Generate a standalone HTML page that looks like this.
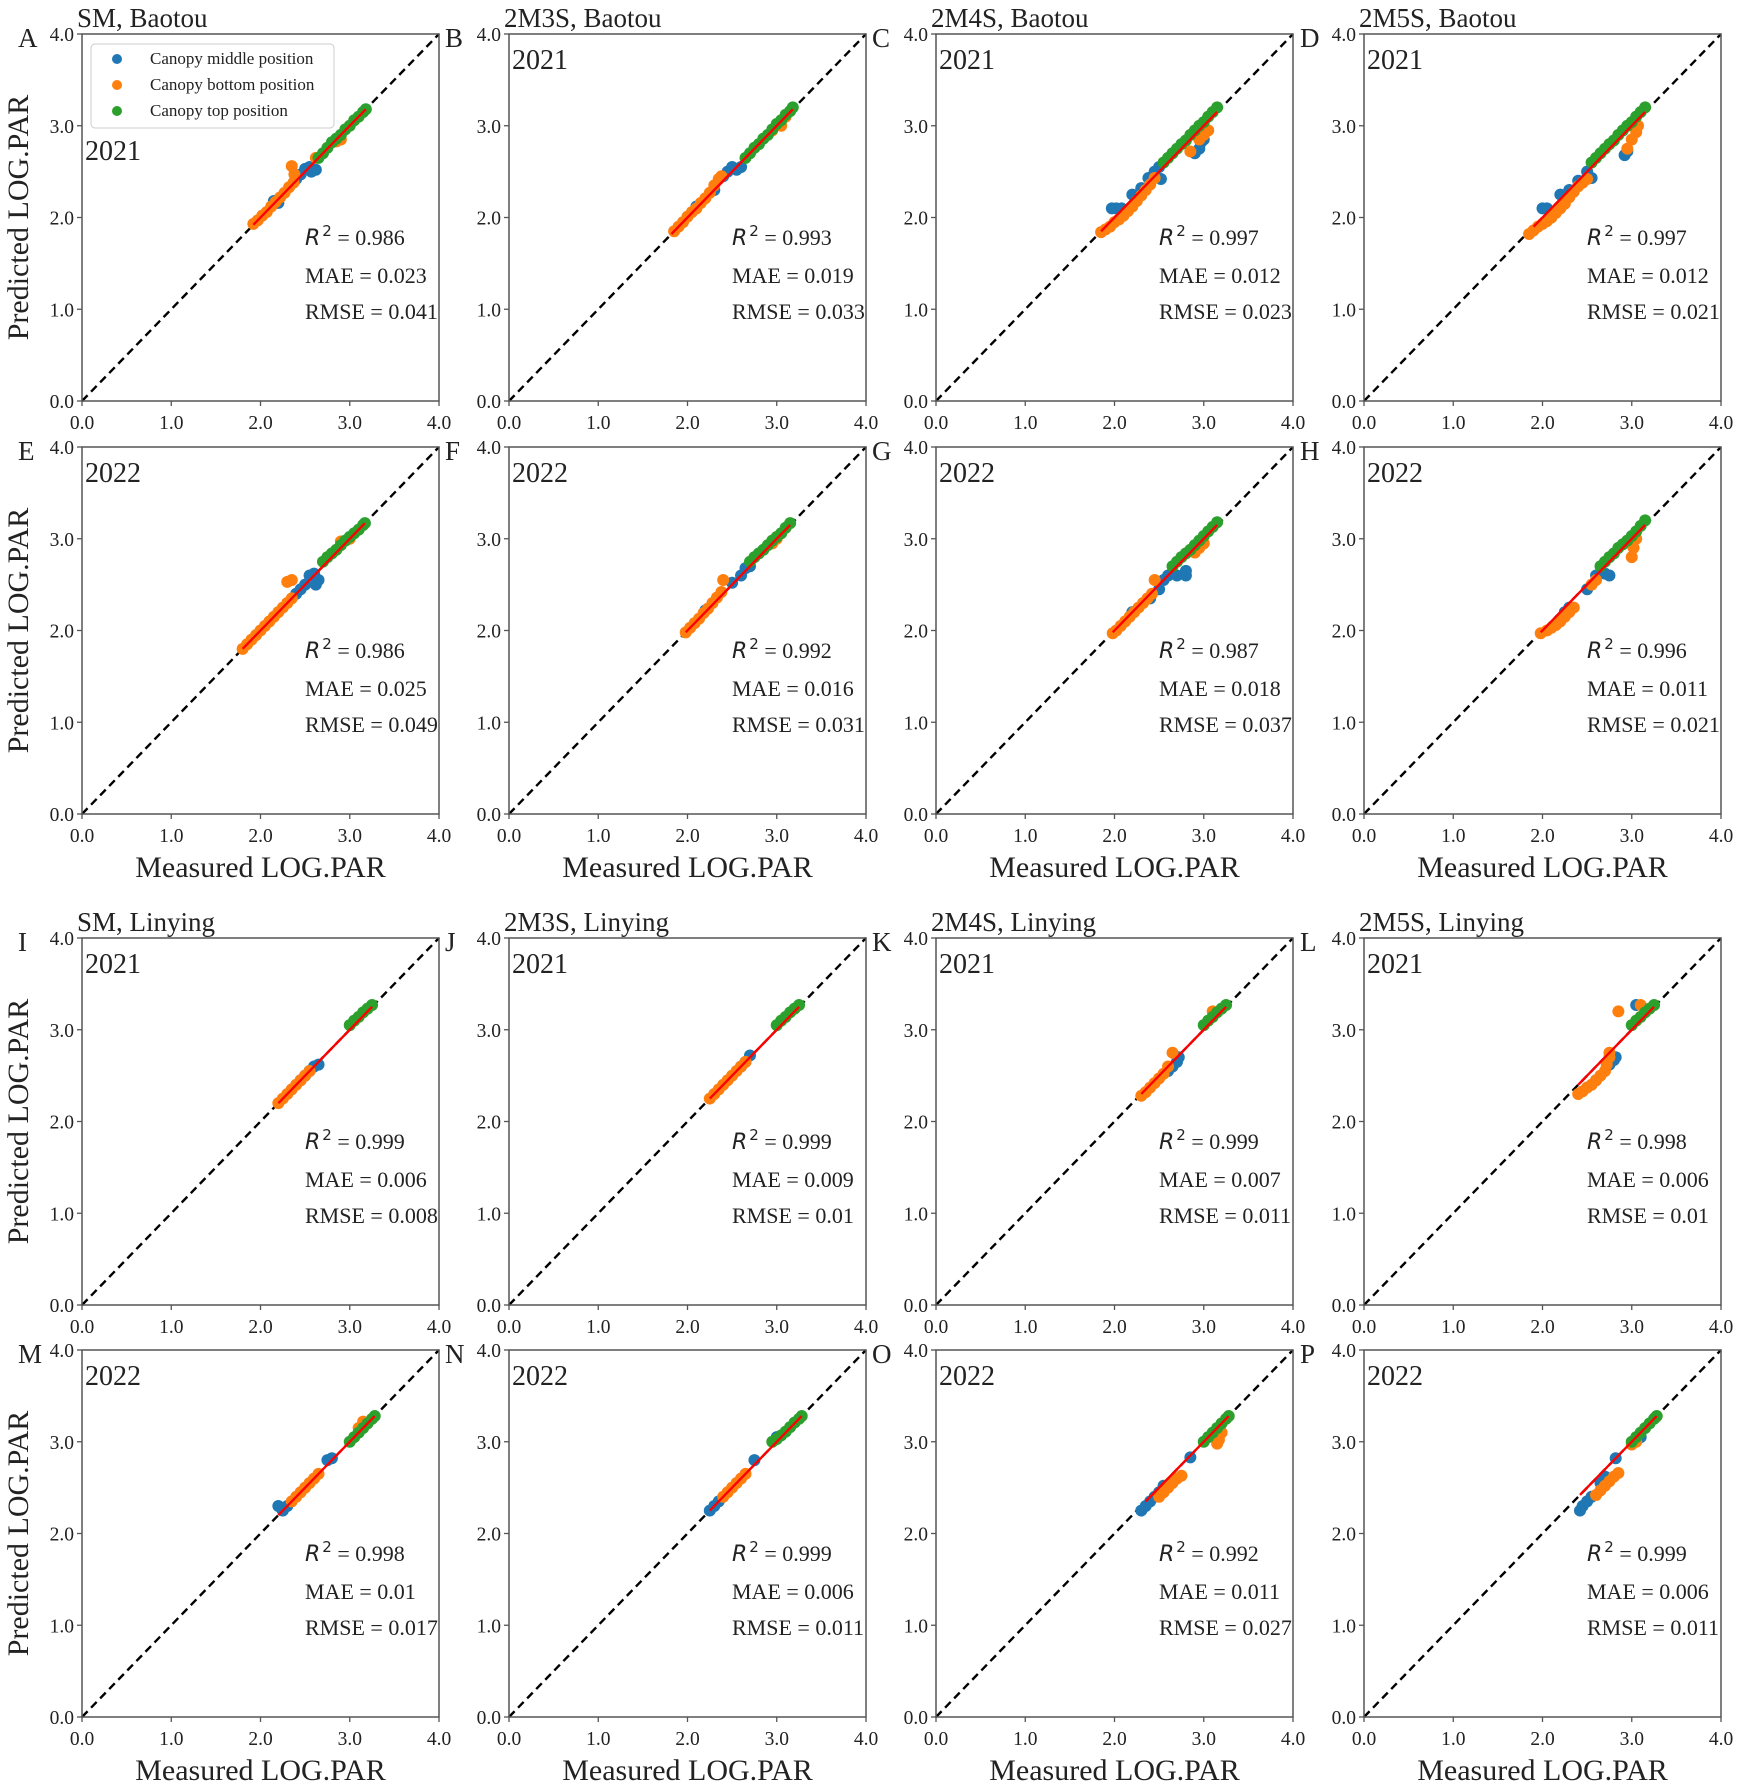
<!DOCTYPE html>
<html><head><meta charset="utf-8"><style>
html,body{margin:0;padding:0;background:#fff;}
svg{display:block;}
text{font-family:"Liberation Serif",serif;fill:#222;}
</style></head><body>
<svg id="fig" xmlns="http://www.w3.org/2000/svg" width="1742" height="1790" viewBox="0 0 1742 1790"></svg>
<script>
// ---- data ----
const panelLetters = ["A","B","C","D","E","F","G","H","I","J","K","L","M","N","O","P"];
const panelTitles = ["SM, Baotou","2M3S, Baotou","2M4S, Baotou","2M5S, Baotou","","","","","SM, Linying","2M3S, Linying","2M4S, Linying","2M5S, Linying","","","",""];
const panelYears = ["2021","2021","2021","2021","2022","2022","2022","2022","2021","2021","2021","2021","2022","2022","2022","2022"];
const r2Values = ["0.986","0.993","0.997","0.997","0.986","0.992","0.987","0.996","0.999","0.999","0.999","0.998","0.998","0.999","0.992","0.999"];
const maeValues = ["0.023","0.019","0.012","0.012","0.025","0.016","0.018","0.011","0.006","0.009","0.007","0.006","0.01","0.006","0.011","0.006"];
const rmseValues = ["0.041","0.033","0.023","0.021","0.049","0.031","0.037","0.021","0.008","0.01","0.011","0.01","0.017","0.011","0.027","0.011"];
const tickValues = [0,1,2,3,4];
const tickLabels = ["0.0","1.0","2.0","3.0","4.0"];
const fitRanges = [[1.92,3.18],[1.82,3.18],[1.85,3.15],[1.9,3.15],[1.8,3.17],[1.98,3.15],[1.98,3.15],[1.98,3.15],[2.2,3.25],[2.25,3.25],[2.3,3.25],[2.4,3.25],[2.2,3.28],[2.25,3.28],[2.35,3.28],[2.42,3.28]];
const middleSeries = [
 [[2.15,2.18],[2.2,2.16],[2.4,2.42],[2.45,2.47],[2.5,2.53],[2.55,2.55],[2.62,2.52],[2.57,2.5]],
 [[2.1,2.12],[2.3,2.3],[2.4,2.45],[2.45,2.5],[2.5,2.55],[2.55,2.52],[2.6,2.55]],
 [[1.97,2.1],[2.02,2.1],[2.08,2.1],[2.2,2.25],[2.3,2.32],[2.38,2.43],[2.45,2.5],[2.5,2.55],[2.52,2.42],[2.9,2.7],[2.95,2.75],[2.97,2.82],[3.0,2.85]],
 [[2.0,2.1],[2.05,2.1],[2.2,2.25],[2.3,2.3],[2.4,2.4],[2.5,2.5],[2.55,2.43],[2.92,2.68],[2.95,2.72]],
 [[2.4,2.4],[2.45,2.45],[2.5,2.5],[2.55,2.6],[2.6,2.62],[2.65,2.55],[2.62,2.5]],
 [[2.2,2.22],[2.5,2.52],[2.6,2.6],[2.65,2.68],[2.7,2.7]],
 [[2.2,2.2],[2.4,2.35],[2.5,2.45],[2.55,2.55],[2.6,2.6],[2.7,2.6],[2.8,2.6],[2.8,2.65]],
 [[2.25,2.2],[2.3,2.25],[2.5,2.45],[2.6,2.6],[2.7,2.62],[2.75,2.6]],
 [[2.45,2.45],[2.5,2.5],[2.55,2.55],[2.6,2.6],[2.65,2.62]],
 [[2.6,2.6],[2.65,2.65],[2.7,2.72]],
 [[2.6,2.55],[2.65,2.6],[2.7,2.65],[2.72,2.7]],
 [[2.6,2.45],[2.75,2.62],[2.8,2.67],[2.82,2.7],[3.05,3.27]],
 [[2.2,2.3],[2.25,2.25],[2.3,2.3],[2.75,2.8],[2.8,2.82]],
 [[2.25,2.25],[2.3,2.3],[2.35,2.35],[2.75,2.8],[3.0,3.05]],
 [[2.3,2.25],[2.35,2.3],[2.4,2.35],[2.45,2.4],[2.5,2.45],[2.55,2.52],[2.85,2.83]],
 [[2.42,2.25],[2.45,2.3],[2.5,2.35],[2.55,2.4],[2.65,2.55],[2.7,2.62],[2.82,2.82],[3.1,3.05]]
];
const bottomSeries = [
 [[1.92,1.93],[1.97,1.97],[2.02,2.02],[2.07,2.06],[2.12,2.12],[2.17,2.17],[2.22,2.22],[2.27,2.27],[2.32,2.33],[2.37,2.38],[2.35,2.56],[2.38,2.47],[2.62,2.65],[2.85,2.83],[2.9,2.85]],
 [[1.85,1.85],[1.9,1.9],[1.95,1.95],[2.0,2.01],[2.05,2.06],[2.1,2.1],[2.15,2.16],[2.2,2.21],[2.25,2.27],[2.3,2.35],[2.35,2.42],[2.38,2.45],[2.95,2.95],[3.05,3.0],[3.1,3.1]],
 [[1.85,1.84],[1.9,1.87],[1.95,1.9],[2.0,1.95],[2.05,1.98],[2.1,2.02],[2.15,2.07],[2.2,2.12],[2.25,2.18],[2.3,2.24],[2.35,2.3],[2.4,2.36],[2.45,2.43],[2.85,2.72],[2.95,2.85],[3.0,2.9],[3.05,2.95]],
 [[1.85,1.82],[1.9,1.86],[1.95,1.9],[2.0,1.93],[2.05,1.96],[2.1,2.0],[2.15,2.05],[2.2,2.1],[2.25,2.15],[2.3,2.22],[2.35,2.28],[2.4,2.34],[2.45,2.38],[2.5,2.42],[2.95,2.75],[3.0,2.85],[3.05,2.93],[3.07,3.0]],
 [[1.8,1.8],[1.85,1.85],[1.9,1.9],[1.95,1.95],[2.0,2.0],[2.05,2.05],[2.1,2.1],[2.15,2.15],[2.2,2.2],[2.25,2.25],[2.3,2.3],[2.35,2.35],[2.3,2.53],[2.35,2.55],[2.9,2.97],[3.0,3.0]],
 [[1.98,1.98],[2.03,2.03],[2.08,2.08],[2.13,2.13],[2.18,2.19],[2.23,2.24],[2.28,2.3],[2.33,2.36],[2.38,2.42],[2.4,2.55],[2.95,2.95],[3.0,3.0]],
 [[1.98,1.97],[2.02,2.0],[2.07,2.05],[2.12,2.1],[2.17,2.15],[2.22,2.2],[2.27,2.25],[2.32,2.3],[2.37,2.35],[2.42,2.4],[2.45,2.55],[2.9,2.85],[2.95,2.9],[3.0,2.95]],
 [[1.98,1.97],[2.05,2.0],[2.1,2.03],[2.15,2.06],[2.2,2.1],[2.25,2.15],[2.3,2.2],[2.35,2.25],[2.55,2.5],[2.6,2.55],[3.0,2.8],[3.02,2.9],[3.05,3.0]],
 [[2.2,2.2],[2.25,2.25],[2.3,2.3],[2.35,2.35],[2.4,2.4],[2.45,2.45],[2.5,2.5],[2.55,2.55]],
 [[2.25,2.25],[2.3,2.3],[2.35,2.35],[2.4,2.4],[2.45,2.45],[2.5,2.5],[2.55,2.55],[2.6,2.6],[2.65,2.65]],
 [[2.3,2.28],[2.35,2.32],[2.4,2.37],[2.45,2.42],[2.5,2.47],[2.55,2.52],[2.6,2.6],[2.65,2.75],[3.1,3.2]],
 [[2.4,2.3],[2.45,2.33],[2.5,2.37],[2.55,2.4],[2.6,2.45],[2.65,2.5],[2.7,2.55],[2.72,2.62],[2.75,2.7],[2.75,2.75],[2.85,3.2],[3.1,3.27]],
 [[2.35,2.35],[2.4,2.4],[2.45,2.45],[2.5,2.5],[2.55,2.55],[2.6,2.6],[2.65,2.65],[3.1,3.15],[3.15,3.22]],
 [[2.4,2.4],[2.45,2.45],[2.5,2.5],[2.55,2.55],[2.6,2.6],[2.65,2.65]],
 [[2.5,2.4],[2.55,2.45],[2.6,2.5],[2.65,2.55],[2.7,2.6],[2.75,2.63],[3.15,2.98],[3.17,3.02],[3.2,3.1]],
 [[2.6,2.42],[2.65,2.47],[2.7,2.52],[2.75,2.57],[2.8,2.62],[2.85,2.66],[3.0,2.97],[3.05,3.0],[3.27,3.27]]
];
const topSeries = [
 [[2.65,2.65],[2.7,2.7],[2.75,2.76],[2.8,2.82],[2.85,2.86],[2.9,2.9],[2.95,2.96],[3.0,3.0],[3.05,3.06],[3.1,3.1],[3.15,3.15],[3.18,3.18]],
 [[2.65,2.65],[2.7,2.7],[2.75,2.76],[2.8,2.8],[2.85,2.86],[2.9,2.9],[2.95,2.96],[3.0,3.02],[3.05,3.06],[3.1,3.12],[3.15,3.16],[3.18,3.2]],
 [[2.55,2.6],[2.6,2.65],[2.65,2.7],[2.7,2.75],[2.75,2.8],[2.8,2.84],[2.85,2.9],[2.9,2.95],[2.95,3.0],[3.0,3.04],[3.05,3.1],[3.1,3.15],[3.15,3.2]],
 [[2.55,2.6],[2.6,2.65],[2.65,2.7],[2.7,2.75],[2.75,2.8],[2.8,2.84],[2.85,2.9],[2.9,2.95],[2.95,3.0],[3.0,3.04],[3.05,3.1],[3.1,3.15],[3.15,3.2]],
 [[2.7,2.75],[2.75,2.8],[2.8,2.84],[2.85,2.88],[2.9,2.93],[2.95,2.98],[3.0,3.02],[3.05,3.06],[3.1,3.1],[3.15,3.15],[3.17,3.17]],
 [[2.7,2.75],[2.75,2.8],[2.8,2.84],[2.85,2.88],[2.9,2.93],[2.95,2.98],[3.0,3.02],[3.05,3.06],[3.1,3.12],[3.15,3.17]],
 [[2.65,2.7],[2.7,2.75],[2.75,2.8],[2.8,2.84],[2.85,2.88],[2.9,2.93],[2.95,2.98],[3.0,3.03],[3.05,3.08],[3.1,3.13],[3.15,3.18]],
 [[2.65,2.7],[2.7,2.75],[2.75,2.8],[2.8,2.84],[2.85,2.9],[2.9,2.94],[2.95,2.98],[3.0,3.03],[3.05,3.08],[3.1,3.14],[3.15,3.2]],
 [[3.0,3.05],[3.05,3.1],[3.1,3.14],[3.15,3.19],[3.2,3.23],[3.25,3.27]],
 [[3.0,3.05],[3.05,3.1],[3.1,3.14],[3.15,3.19],[3.2,3.23],[3.25,3.27]],
 [[3.0,3.05],[3.05,3.1],[3.1,3.14],[3.15,3.19],[3.2,3.23],[3.25,3.27]],
 [[3.0,3.05],[3.05,3.1],[3.1,3.14],[3.15,3.19],[3.2,3.23],[3.25,3.27]],
 [[3.0,3.0],[3.05,3.05],[3.1,3.1],[3.15,3.15],[3.2,3.2],[3.25,3.25],[3.28,3.28]],
 [[2.95,3.0],[3.0,3.03],[3.05,3.07],[3.1,3.11],[3.15,3.16],[3.2,3.21],[3.25,3.25],[3.28,3.28]],
 [[3.0,3.0],[3.05,3.05],[3.1,3.1],[3.15,3.15],[3.2,3.2],[3.25,3.25],[3.28,3.28]],
 [[3.0,3.0],[3.05,3.05],[3.1,3.1],[3.15,3.15],[3.2,3.2],[3.25,3.25],[3.28,3.28]]
];

// ---- layout ----
const NS = "http://www.w3.org/2000/svg";
const svg = document.getElementById("fig");
const colLeft = [82, 509, 936, 1364];
const rowTop = [34, 447, 938, 1350];
const W = 357, H = 367;
const COLORS = {mid:"#1f77b4", bot:"#ff7f0e", top:"#2ca02c"};

function mk(tag, attrs, parent) {
  const e = document.createElementNS(NS, tag);
  for (const k in attrs) e.setAttribute(k, attrs[k]);
  (parent || svg).appendChild(e);
  return e;
}

for (let p = 0; p < 16; p++) {
  const r = Math.floor(p / 4), c = p % 4;
  const L = colLeft[c], T = rowTop[r];
  const sx = v => L + v / 4 * W;
  const sy = v => T + H - v / 4 * H;
  const g = mk("g", {});
  
  

  const diag = mk("line", {x1:sx(0), y1:sy(0), x2:sx(4), y2:sy(4), stroke:"#000", "stroke-width":2.4, "stroke-dasharray":"8,5"}, g);
  
  

  const sets = [["mid", middleSeries[p]], ["bot", bottomSeries[p]], ["top", topSeries[p]]];
  for (const [key, pts] of sets) {
    const sg = mk("g", {fill: COLORS[key]}, g);
    
    
    for (const pt of pts) {
      const d = mk("circle", {cx: sx(pt[0]), cy: sy(pt[1]), r: 6}, sg);
      
      
    }
  }
  const f = fitRanges[p];
  const fit = mk("line", {x1:sx(f[0]), y1:sy(f[0]), x2:sx(f[1]), y2:sy(f[1]), stroke:"#ff0000", "stroke-width":2.4}, g);
  
  

  const fr = mk("rect", {x:L, y:T, width:W, height:H, fill:"none", stroke:"#555", "stroke-width":1.5}, g);
  
  

  for (let i = 0; i < tickValues.length; i++) {
    const v = tickValues[i];
    mk("line", {x1:sx(v), y1:T+H, x2:sx(v), y2:T+H+5, stroke:"#555", "stroke-width":1.3}, g);
    mk("line", {x1:L-5, y1:sy(v), x2:L, y2:sy(v), stroke:"#555", "stroke-width":1.3}, g);
    const xt = mk("text", {x:sx(v), y:T+H+28, "text-anchor":"middle", "font-size":19.5, fill:"#333"}, g);
    xt.textContent = tickLabels[i];
    
    
    const yt = mk("text", {x:L-8, y:sy(v)+7, "text-anchor":"end", "font-size":19.5, fill:"#333"}, g);
    yt.textContent = tickLabels[i];
    
    
  }

  const lt = mk("text", {x:L-64, y:T+13, "font-size":27}, g);
  lt.textContent = panelLetters[p];
  
  

  if (panelTitles[p]) {
    const tt = mk("text", {x:L-5, y:T-7, "font-size":27}, g);
    tt.textContent = panelTitles[p];
    
    
  }

  const yr = mk("text", {x:L+3, y:(p === 0 ? T+126 : T+35), "font-size":28}, g);
  yr.textContent = panelYears[p];
  
  

  const sxp = L + 223;
  const r2 = mk("text", {x:sxp, y:T+211, "font-size":22}, g);
  
  
  const rI = mk("tspan", {"font-family":"DejaVu Sans, sans-serif", "font-style":"italic"}, r2); rI.textContent = "R";
  const rS = mk("tspan", {"font-family":"DejaVu Sans, sans-serif", "font-size":15, dy:-9, dx:2}, r2); rS.textContent = "2";
  const rV = mk("tspan", {dy:9}, r2); rV.textContent = " = " + r2Values[p];
  const mae = mk("text", {x:sxp, y:T+249, "font-size":22}, g);
  mae.textContent = "MAE = " + maeValues[p];
  
  
  const rm = mk("text", {x:sxp, y:T+285, "font-size":22}, g);
  rm.textContent = "RMSE = " + rmseValues[p];
  
  

  if (c === 0) {
    const cy = T + H / 2;
    const ya = mk("text", {x:0, y:0, "text-anchor":"middle", "font-size":30, transform:"translate(28," + cy + ") rotate(-90)"}, g);
    ya.textContent = "Predicted LOG.PAR";
    
    
  }
  if (r === 1 || r === 3) {
    const xa = mk("text", {x:L + W / 2, y:T + H + 63, "text-anchor":"middle", "font-size":30}, g);
    xa.textContent = "Measured LOG.PAR";
    
    
  }
}

const legendLabels = ["Canopy middle position","Canopy bottom position","Canopy top position"];
const legendColors = [COLORS.mid, COLORS.bot, COLORS.top];
const lg = mk("g", {});


mk("rect", {x:91, y:44, width:243, height:84, rx:4, fill:"#fff", "fill-opacity":0.85, stroke:"#ccc", "stroke-width":1}, lg);
for (let i = 0; i < 3; i++) {
  const cy = 59 + i * 26;
  const d = mk("circle", {cx:117, cy:cy, r:5, fill:legendColors[i]}, lg);
  
  
  const t = mk("text", {x:150, y:cy + 5, "font-size":17}, lg);
  t.textContent = legendLabels[i];
  
  
}
</script>
</body></html>
